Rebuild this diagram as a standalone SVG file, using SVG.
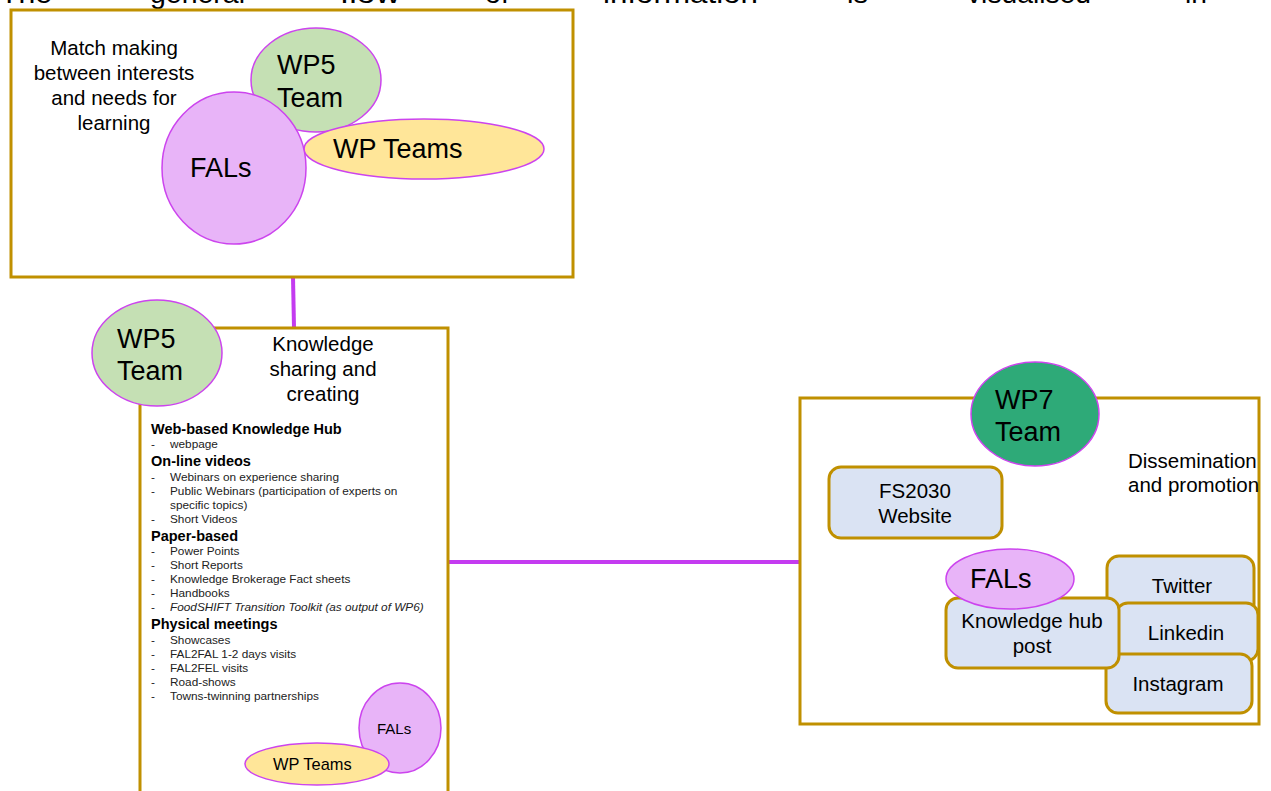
<svg xmlns="http://www.w3.org/2000/svg" width="1271" height="791" viewBox="0 0 1271 791">
<style>
text{font-family:"Liberation Sans",Arial,sans-serif;fill:#000}
.frame{fill:#fff;stroke:#C09000;stroke-width:3}
.ell{stroke:#CC44EE;stroke-width:1.5}
.green{fill:#C5E0B4}
.yellow{fill:#FFE699}
.violet{fill:#E8B4F8}
.dark{fill:#2EAA78}
.card{fill:#DAE3F3;stroke:#C09000;stroke-width:3}
.conn{stroke:#C43BF0;stroke-width:4;fill:none}
.big{font-size:27px}
.mid{font-size:20.5px}
.h{font-size:14.5px;font-weight:bold}
.s{font-size:11.8px;fill:#222}
.top{font-size:28px}
</style>
<g id="header">
<text class="top" x="0" y="3" textLength="52" lengthAdjust="spacingAndGlyphs">The</text>
<text class="top" x="150" y="3" textLength="95" lengthAdjust="spacingAndGlyphs">general</text>
<text class="top" x="340" y="3" textLength="60" lengthAdjust="spacingAndGlyphs">flow</text>
<text class="top" x="485" y="3" textLength="24" lengthAdjust="spacingAndGlyphs">of</text>
<text class="top" x="603" y="3" textLength="155" lengthAdjust="spacingAndGlyphs">information</text>
<text class="top" x="847" y="3" textLength="21" lengthAdjust="spacingAndGlyphs">is</text>
<text class="top" x="967" y="3" textLength="124" lengthAdjust="spacingAndGlyphs">visualised</text>
<text class="top" x="1185" y="3" textLength="22" lengthAdjust="spacingAndGlyphs">in</text>
</g>
<g id="connectors">
<line class="conn" x1="293" y1="277" x2="294" y2="328"/>
<line class="conn" x1="448" y1="562" x2="800" y2="562"/>
</g>
<g id="matchmaking">
<rect class="frame" x="11" y="10" width="562" height="267"/>
<text class="mid" text-anchor="middle"><tspan x="114" y="55">Match making</tspan><tspan x="114" y="80">between interests</tspan><tspan x="114" y="105">and needs for</tspan><tspan x="114" y="130">learning</tspan></text>
<ellipse class="ell green" cx="316" cy="80" rx="65" ry="52"/>
<text class="big"><tspan x="277" y="74">WP5</tspan><tspan x="277" y="107">Team</tspan></text>
<ellipse class="ell yellow" cx="424" cy="149" rx="120" ry="30"/>
<text class="big" x="333" y="158">WP Teams</text>
<ellipse class="ell violet" cx="234" cy="168" rx="72" ry="76"/>
<text class="big" x="190" y="177">FALs</text>
</g>
<g id="knowledge">
<rect class="frame" x="140" y="328" width="308" height="480"/>
<ellipse class="ell green" cx="157" cy="353" rx="65" ry="53"/>
<text class="big"><tspan x="117" y="348">WP5</tspan><tspan x="117" y="380">Team</tspan></text>
<text class="mid" text-anchor="middle"><tspan x="323" y="351">Knowledge</tspan><tspan x="323" y="376">sharing and</tspan><tspan x="323" y="401">creating</tspan></text>
<text class="h" x="151" y="434">Web-based Knowledge Hub</text>
<text class="s"><tspan x="151" y="448">-</tspan><tspan x="170" y="448">webpage</tspan></text>
<text class="h" x="151" y="466">On-line videos</text>
<text class="s"><tspan x="151" y="481">-</tspan><tspan x="170" y="481">Webinars on experience sharing</tspan><tspan x="151" y="495">-</tspan><tspan x="170" y="495">Public Webinars (participation of experts on</tspan><tspan x="170" y="509">specific topics)</tspan><tspan x="151" y="523">-</tspan><tspan x="170" y="523">Short Videos</tspan></text>
<text class="h" x="151" y="541">Paper-based</text>
<text class="s"><tspan x="151" y="555">-</tspan><tspan x="170" y="555">Power Points</tspan><tspan x="151" y="569">-</tspan><tspan x="170" y="569">Short Reports</tspan><tspan x="151" y="583">-</tspan><tspan x="170" y="583">Knowledge  Brokerage Fact sheets</tspan><tspan x="151" y="597">-</tspan><tspan x="170" y="597">Handbooks</tspan><tspan x="151" y="611">-</tspan><tspan x="170" y="611" font-style="italic">FoodSHIFT Transition Toolkit (as output of WP6)</tspan></text>
<text class="h" x="151" y="629">Physical meetings</text>
<text class="s"><tspan x="151" y="644">-</tspan><tspan x="170" y="644">Showcases</tspan><tspan x="151" y="658">-</tspan><tspan x="170" y="658">FAL2FAL  1-2 days visits</tspan><tspan x="151" y="672">-</tspan><tspan x="170" y="672">FAL2FEL visits</tspan><tspan x="151" y="686">-</tspan><tspan x="170" y="686">Road-shows</tspan><tspan x="151" y="700">-</tspan><tspan x="170" y="700">Towns-twinning  partnerships</tspan></text>
<ellipse class="ell violet" cx="400" cy="728" rx="41" ry="45"/>
<text x="377" y="734" font-size="15">FALs</text>
<ellipse class="ell yellow" cx="317" cy="764" rx="72" ry="21"/>
<text x="273" y="770" font-size="16.4">WP Teams</text>
</g>
<g id="dissemination">
<rect class="frame" x="800" y="398" width="459" height="326"/>
<ellipse class="ell dark" cx="1035" cy="414" rx="64" ry="52"/>
<text class="big"><tspan x="995" y="409">WP7</tspan><tspan x="995" y="441">Team</tspan></text>
<text class="mid"><tspan x="1128" y="468">Dissemination</tspan><tspan x="1128" y="492">and promotion</tspan></text>
<rect class="card" x="829" y="467" width="173" height="71" rx="12"/>
<text class="mid" text-anchor="middle"><tspan x="915" y="498">FS2030</tspan><tspan x="915" y="523">Website</tspan></text>
<rect class="card" x="1107" y="556" width="147" height="60" rx="12"/>
<text class="mid" text-anchor="middle" x="1182" y="593">Twitter</text>
<rect class="card" x="1116" y="603" width="142" height="58" rx="12"/>
<text class="mid" text-anchor="middle" x="1186" y="640">Linkedin</text>
<rect class="card" x="1106" y="654" width="146" height="59" rx="12"/>
<text class="mid" text-anchor="middle" x="1178" y="691">Instagram</text>
<rect class="card" x="946" y="598" width="173" height="70" rx="12"/>
<text class="mid" text-anchor="middle"><tspan x="1032" y="628">Knowledge hub</tspan><tspan x="1032" y="653">post</tspan></text>
<ellipse class="ell violet" cx="1010" cy="579" rx="64" ry="30"/>
<text class="big" x="970" y="588">FALs</text>
</g>
</svg>
